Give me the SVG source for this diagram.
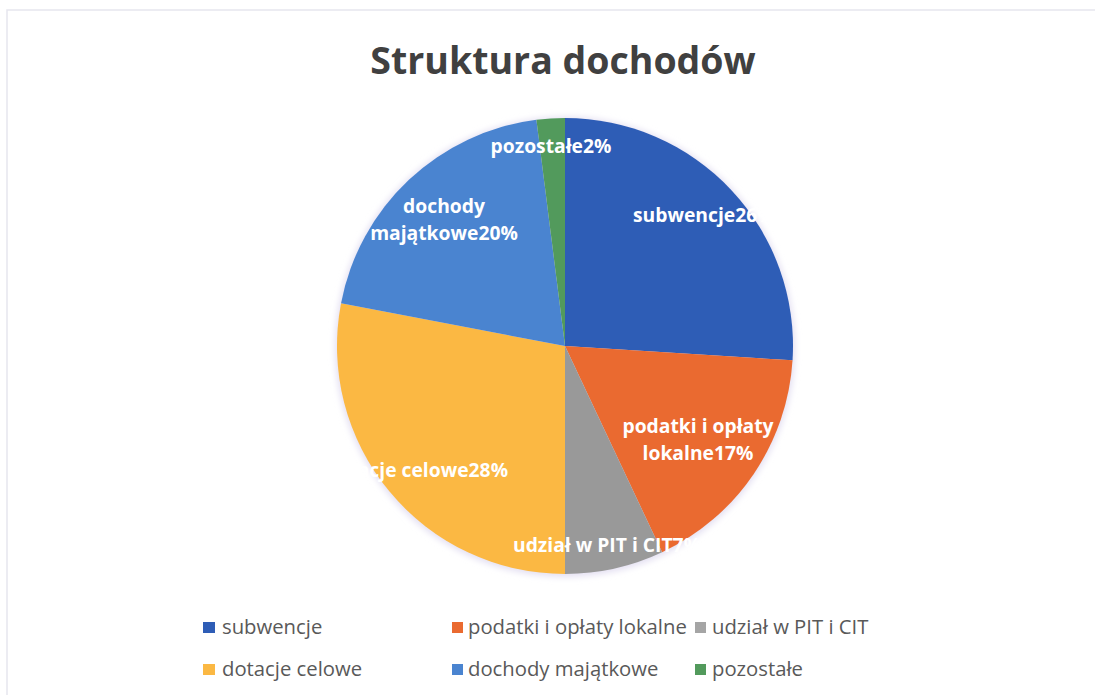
<svg xmlns="http://www.w3.org/2000/svg" width="1106" height="695" viewBox="0 0 1106 695">
<defs>
<style>
.title{font-family:"Open Sans","Noto Sans",sans-serif;font-weight:700;font-size:37.5px;fill:#404040}
.lbl{font-family:"Open Sans","Noto Sans",sans-serif;font-weight:700;font-size:19.3px;fill:#ffffff}
.leg{font-family:"Open Sans","Noto Sans",sans-serif;font-size:20.3px;fill:#595959}
</style>
<filter id="halo" x="-10%" y="-10%" width="120%" height="120%">
<feGaussianBlur stdDeviation="3"/>
</filter>
</defs>
<rect x="0" y="0" width="1106" height="695" fill="#ffffff"/>
<path d="M7 695 V10 H1095" fill="none" stroke="#e6e6ee" stroke-width="1.5"/>
<text class="title" x="563" y="74" text-anchor="middle">Struktura dochodów</text>
<g id="pie">
<circle cx="565" cy="347" r="230" fill="#e4e0f2" filter="url(#halo)"/>
<g id="slice-subwencje"><path d="M565 346 L565 118 A228 228 0 0 1 792.55 360.32 Z" fill="#2E5DB6"/></g>
<g id="slice-podatki"><path d="M565 346 L792.55 360.32 A228 228 0 0 1 662.08 552.30 Z" fill="#EA6A30"/></g>
<g id="slice-udzial"><path d="M565 346 L662.08 552.30 A228 228 0 0 1 565 574 Z" fill="#999999"/></g>
<g id="slice-dotacje"><path d="M565 346 L565 574 A228 228 0 0 1 341.04 303.28 Z" fill="#FBB843"/></g>
<g id="slice-dochody"><path d="M565 346 L341.04 303.28 A228 228 0 0 1 536.42 119.80 Z" fill="#4A84D0"/></g>
<g id="slice-pozostale"><path d="M565 346 L536.42 119.80 A228 228 0 0 1 565 118 Z" fill="#529A5C"/></g>
</g>
<g id="labels">
<text class="lbl" x="551" y="153" text-anchor="middle">pozostałe2%</text>
<text class="lbl" x="444" y="213" text-anchor="middle">dochody</text>
<text class="lbl" x="444" y="240" text-anchor="middle">majątkowe20%</text>
<text class="lbl" x="633" y="222">subwencje26%</text>
<text class="lbl" x="698" y="433" text-anchor="middle">podatki i opłaty</text>
<text class="lbl" x="698" y="460" text-anchor="middle">lokalne17%</text>
<text class="lbl" x="508" y="477" text-anchor="end">dotacje celowe28%</text>
<text class="lbl" x="513" y="552">udział w PIT i CIT7%</text>
</g>
<g id="legend">
<g id="leg-subwencje"><rect x="203" y="622" width="12" height="11" fill="#2E5DB6"/><text class="leg" x="222" y="634">subwencje</text></g>
<g id="leg-podatki"><rect x="452" y="622" width="11" height="11" fill="#EA6A30"/><text class="leg" x="468" y="634">podatki i opłaty lokalne</text></g>
<g id="leg-udzial"><rect x="695" y="622" width="11" height="11" fill="#A5A5A5"/><text class="leg" x="712" y="634">udział w PIT i CIT</text></g>
<g id="leg-dotacje"><rect x="203" y="664" width="12" height="11" fill="#FBB843"/><text class="leg" x="222" y="676">dotacje celowe</text></g>
<g id="leg-dochody"><rect x="452" y="664" width="11" height="11" fill="#4A84D0"/><text class="leg" x="468" y="676">dochody majątkowe</text></g>
<g id="leg-pozostale"><rect x="695" y="664" width="11" height="11" fill="#529A5C"/><text class="leg" x="712" y="676">pozostałe</text></g>
</g>
</svg>
